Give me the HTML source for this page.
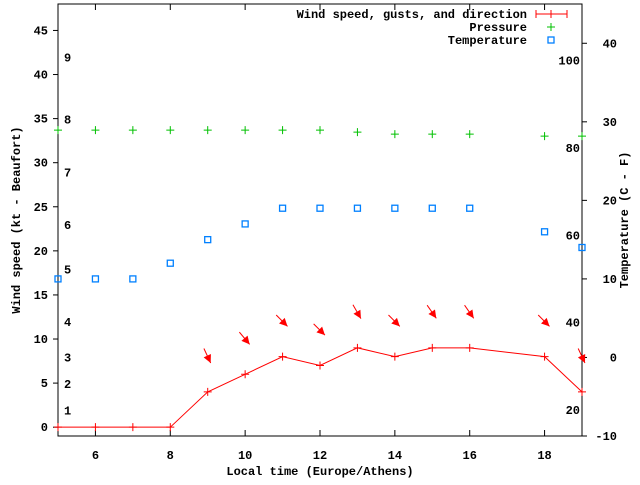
<!DOCTYPE html>
<html><head><meta charset="utf-8"><style>
html,body{margin:0;padding:0;background:#fff}
svg text{font-family:"Liberation Mono","DejaVu Sans Mono",monospace;font-weight:bold;font-size:12px;fill:#000}
</style></head><body>
<svg id="c" width="640" height="480" viewBox="0 0 640 480" xmlns="http://www.w3.org/2000/svg"></svg>
<script>
const hours=[5,6,7,8,9,10,11,12,13,14,15,16,18,19];
const windKt=[0,0,0,0,4,6,8,7,9,8,9,9,8,4];
const gustHours=[9,10,11,12,13,14,15,16,18,19];
const gustKt=[8,10,12,11,13,12,13,13,12,8];
const windDir=[335,320,315,315,330,315,325,325,315,335];
const pressure=[1016,1016,1016,1016,1016,1016,1016,1016,1015,1014,1014,1014,1013,1013];
const tempC=[10,10,10,12,15,17,19,19,19,19,19,19,16,14];
const xTicks=[6,8,10,12,14,16,18];
const yTicks=[0,5,10,15,20,25,30,35,40,45];
const tTicks=[-10,0,10,20,30,40];
const fLabels=[20,40,60,80,100];
const bftLabels=[1,2,3,4,5,6,7,8,9];
const bftKt=[1,4,7,11,17,22,28,34,41];

const L=58,R=582,T=4,B=436;
const X=h=>L+(h-5)/(19-5)*(R-L);
const Y=k=>B-(k+1)/(48+1)*(B-T);
const YT=c=>B-(c+10)/(45+10)*(B-T);
const YP=p=>Y(33.7)+(1016-p)*2;
const svg=document.getElementById('c');
const NS='http://www.w3.org/2000/svg';
function mk(tag,attrs,name,parent){const e=document.createElementNS(NS,tag);for(const k in attrs)e.setAttribute(k,attrs[k]);


(parent||svg).appendChild(e);return e;}
function txt(x,y,s,anchor,name,extra){const e=mk('text',Object.assign({x:x,y:y,'text-anchor':anchor||'start'},extra||{}),name);e.textContent=s;return e;}

mk('rect',{x:L,y:T,width:R-L,height:B-T,fill:'none',stroke:'#000','stroke-width':1},'plot-frame');
xTicks.forEach(h=>{
  mk('line',{x1:X(h),y1:B,x2:X(h),y2:B-6,stroke:'#000'},'x-tick');
  mk('line',{x1:X(h),y1:T,x2:X(h),y2:T+6,stroke:'#000'},'x-tick-top');
  txt(X(h),459,String(h),'middle','x-tick-label');
});
yTicks.forEach(k=>{
  mk('line',{x1:L-5,y1:Y(k),x2:L,y2:Y(k),stroke:'#000'},'y-tick');
  txt(L-10,Y(k)+4,String(k),'end','y-tick-label');
});
tTicks.forEach(c=>{
  mk('line',{x1:R,y1:YT(c),x2:R+5,y2:YT(c),stroke:'#000'},'y2-tick');
  txt(R+35,YT(c)+4,String(c),'end','y2-tick-label');
});
fLabels.forEach(f=>{txt(R-2,YT((f-32)*5/9)+4,String(f),'end','fahrenheit-label');});
bftLabels.forEach((b,i)=>{txt(64,Y(bftKt[i])-4,String(b),'start','beaufort-label');});

txt(320,475,'Local time (Europe/Athens)','middle','x-axis-title');
txt(0,0,'Wind speed (kt - Beaufort)','middle','y-axis-title',{transform:'translate(20,220) rotate(-90)'});
txt(0,0,'Temperature (C - F)','middle','y2-axis-title',{transform:'translate(628,220) rotate(-90)'});

// pressure
hours.forEach((h,i)=>{const x=X(h),y=YP(pressure[i]);
  mk('path',{d:`M${x-4},${y}H${x+4}M${x},${y-4}V${y+4}`,stroke:'#00c000','stroke-width':1,fill:'none'},'pressure-point');});
// temperature
hours.forEach((h,i)=>{mk('rect',{x:X(h)-3,y:YT(tempC[i])-3,width:6,height:6,fill:'none',stroke:'#0080ff','stroke-width':1.3},'temperature-point');});
// wind line
mk('polyline',{points:hours.map((h,i)=>X(h)+','+Y(windKt[i])).join(' '),fill:'none',stroke:'#f00','stroke-width':1},'wind-speed-line');
hours.forEach((h,i)=>{const x=X(h),y=Y(windKt[i]);
  mk('path',{d:`M${x-4},${y}H${x+4}M${x},${y-4}V${y+4}`,stroke:'#f00',fill:'none'},'wind-speed-point');});
// gust arrows
gustHours.forEach((h,i)=>{
  const cx=X(h),cy=Y(gustKt[i]);const a=(windDir[i]+180)*Math.PI/180; // pointing to
  const dx=Math.sin(a),dy=-Math.cos(a);
  const tx=cx+dx*7,ty=cy+dy*7,sx=cx-dx*9,sy=cy-dy*9;
  const px=-dy,py=dx;
  mk('line',{x1:sx,y1:sy,x2:tx,y2:ty,stroke:'#f00'},'gust-arrow-shaft');
  const bx=tx-dx*8,by=ty-dy*8;
  mk('polygon',{points:`${tx},${ty} ${bx+px*4},${by+py*4} ${bx-px*4},${by-py*4}`,fill:'#f00'},'gust-arrow-head');
});
// legend
txt(527,18,'Wind speed, gusts, and direction','end','legend-wind-label');
mk('path',{d:'M536,14H567M536,10V18M567,10V18M551,10V18',stroke:'#f00',fill:'none'},'legend-wind-symbol');
txt(527,31,'Pressure','end','legend-pressure-label');
mk('path',{d:'M547,27H555M551,23V31',stroke:'#00c000',fill:'none'},'legend-pressure-symbol');
txt(527,44,'Temperature','end','legend-temperature-label');
mk('rect',{x:548,y:37,width:6,height:6,fill:'none',stroke:'#0080ff','stroke-width':1.3},'legend-temperature-symbol');
</script>
</body></html>
